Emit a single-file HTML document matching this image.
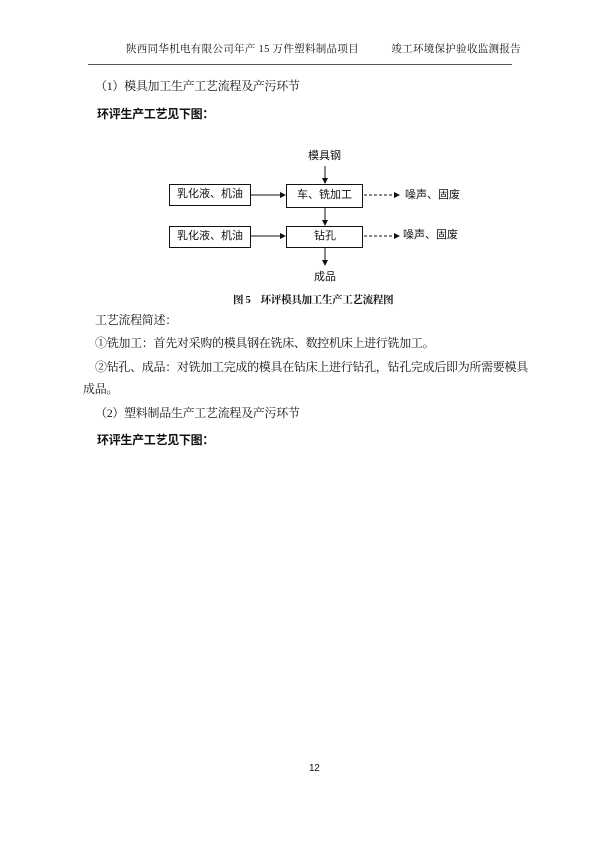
<!DOCTYPE html>
<html><head><meta charset="utf-8"><style>
body{margin:0;width:600px;height:848px;background:#fff;position:relative;overflow:hidden;font-family:"Liberation Serif","Noto Serif CJK SC",serif;color:#111}
.t{position:absolute;white-space:nowrap;font-size:12px;line-height:14px;letter-spacing:-0.3px}
.b{font-family:"Liberation Sans","Noto Sans CJK SC",sans-serif;font-weight:bold}
.s{font-family:"Liberation Sans","Noto Sans CJK SC",sans-serif;font-size:11px;position:absolute;white-space:nowrap;line-height:13px}
</style></head><body>
<div class="t" style="left:126px;top:43px;font-size:10.5px;letter-spacing:0.3px">陕西同华机电有限公司年产 15 万件塑料制品项目　　　竣工环境保护验收监测报告</div>
<div style="position:absolute;left:88px;top:64px;width:424px;height:1px;background:#555"></div>
<div class="t" style="left:95px;top:79px">（1）模具加工生产工艺流程及产污环节</div>
<div class="t b" style="left:97px;top:107px">环评生产工艺见下图：</div>

<svg style="position:absolute;left:0;top:0" width="600" height="848">
<defs><marker id="a" markerWidth="6" markerHeight="6" refX="5" refY="3" orient="auto"><path d="M0,0L6,3L0,6z" fill="#111"/></marker></defs>
<g fill="none" stroke="#111" stroke-width="1">
<rect x="169.5" y="184.5" width="81" height="21"/>
<rect x="286.5" y="184.5" width="76" height="23"/>
<rect x="169.5" y="226.5" width="81" height="21"/>
<rect x="286.5" y="226.5" width="76" height="21"/>
<line x1="325" y1="166" x2="325" y2="183" marker-end="url(#a)"/>
<line x1="251" y1="195" x2="285" y2="195" marker-end="url(#a)"/>
<line x1="251" y1="236" x2="285" y2="236" marker-end="url(#a)"/>
<line x1="325" y1="208" x2="325" y2="225" marker-end="url(#a)"/>
<line x1="325" y1="248" x2="325" y2="265" marker-end="url(#a)"/>
<line x1="364" y1="195" x2="399" y2="195" stroke-dasharray="3,2" marker-end="url(#a)"/>
<line x1="364" y1="236" x2="399" y2="236" stroke-dasharray="3,2" marker-end="url(#a)"/>
</g></svg>
<div class="s" style="left:308px;top:150px">模具钢</div>
<div class="s" style="left:177px;top:188px">乳化液、机油</div>
<div class="s" style="left:297px;top:189px">车、铣加工</div>
<div class="s" style="left:405px;top:189px">噪声、固废</div>
<div class="s" style="left:177px;top:230px">乳化液、机油</div>
<div class="s" style="left:314px;top:230px">钻孔</div>
<div class="s" style="left:403px;top:229px">噪声、固废</div>
<div class="s" style="left:314px;top:271px">成品</div>
<div class="t b" style="left:233px;top:294px;font-size:10.5px;font-family:'Liberation Serif','Noto Serif CJK SC',serif">图 5　环评模具加工生产工艺流程图</div>

<div class="t" style="left:95px;top:313px">工艺流程简述：</div>
<div class="t" style="left:95px;top:336px">①铣加工：首先对采购的模具钢在铣床、数控机床上进行铣加工。</div>
<div class="t" style="left:95px;top:360px">②钻孔、成品：对铣加工完成的模具在钻床上进行钻孔，钻孔完成后即为所需要模具</div>
<div class="t" style="left:83px;top:382px">成品。</div>
<div class="t" style="left:95px;top:406px">（2）塑料制品生产工艺流程及产污环节</div>
<div class="t b" style="left:97px;top:433px">环评生产工艺见下图：</div>
<div class="t" style="left:309px;top:762px;font-size:10px;font-family:'Liberation Sans',sans-serif">12</div>
</body></html>
